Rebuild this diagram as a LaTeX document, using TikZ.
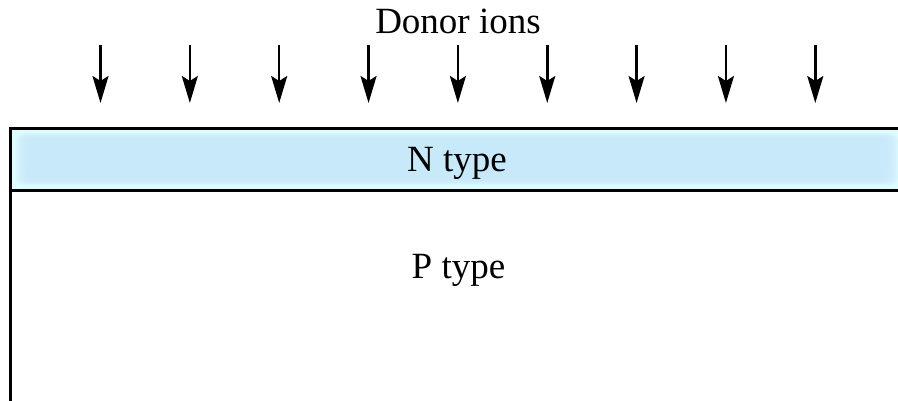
\documentclass[tikz,border=0pt]{standalone}
\usepackage{fontspec}
\setmainfont{Liberation Serif}
\usetikzlibrary{arrows.meta}
\definecolor{bandouter}{RGB}{222,251,255}
\definecolor{bandinner}{RGB}{196,230,250}
\tikzset{
  label text/.style={font=\fontsize{37}{40}\selectfont, inner sep=0pt, anchor=base},
  ion arrow/.style={line width=2.5pt, -{Stealth[length=27pt,width=16pt,inset=5pt]}},
  wafer edge/.style={line width=3pt}
}
\begin{document}
\begin{tikzpicture}[x=1pt,y=-1pt]
  \useasboundingbox (0,0) rectangle (898,400);
  \begin{scope}
    \clip (0,0) rectangle (898,400);
    % implanted N layer: pale band with a soft blue core
    \fill[bandouter] (10,128) rectangle (910,190);
    \foreach \d in {0,2,4,6,8,10,12}{
      \fill[bandinner, opacity=0.2, rounded corners=8pt]
        (16+\d,133+\d*0.45) rectangle (898-\d,185-\d*0.45);
    }
    % wafer outline
    \coordinate (tl) at (10,128);
    \coordinate (tr) at (910,128);
    \coordinate (bl) at (10,410);
    \coordinate (ml) at (10,190);
    \coordinate (mr) at (910,190);
    \draw[wafer edge] (tr) -- (tl) -- (bl);
    \draw[wafer edge] (ml) -- (mr);
  \end{scope}
  % labels
  \node[label text] (donor) at (458,33) {Donor ions};
  \node[label text] (ntype) at (457,171.5) {N type};
  \node[label text] (ptype) at (458.5,278.5) {P type};
  % incoming donor ions
  \foreach \i in {0,...,8}{
    \coordinate (s\i) at ({100.5+89.35*\i},45);
    \coordinate (e\i) at ({100.5+89.35*\i},103);
    \draw[ion arrow] (s\i) -- (e\i);
  }
\end{tikzpicture}
\end{document}
